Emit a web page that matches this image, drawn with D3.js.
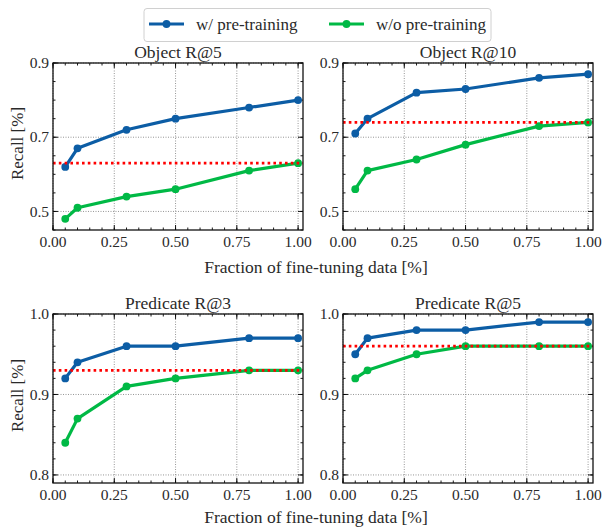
<!DOCTYPE html>
<html>
<head>
<meta charset="utf-8">
<script src="https://cdn.jsdelivr.net/npm/d3@7"></script>
<style>
  body { margin: 0; background: #fff; }
</style>
</head>
<body>
<svg id="chart"></svg>
<script>
// data
const fractions = [0.05, 0.1, 0.3, 0.5, 0.8, 1.0]
const titles = ['Object R@5', 'Object R@10', 'Predicate R@3', 'Predicate R@5']
const withPre = [
  [0.62, 0.67, 0.72, 0.75, 0.78, 0.80],
  [0.71, 0.75, 0.82, 0.83, 0.86, 0.87],
  [0.92, 0.94, 0.96, 0.96, 0.97, 0.97],
  [0.95, 0.97, 0.98, 0.98, 0.99, 0.99]
]
const withoutPre = [
  [0.48, 0.51, 0.54, 0.56, 0.61, 0.63],
  [0.56, 0.61, 0.64, 0.68, 0.73, 0.74],
  [0.84, 0.87, 0.91, 0.92, 0.93, 0.93],
  [0.92, 0.93, 0.95, 0.96, 0.96, 0.96]
]
const baselines = [0.63, 0.74, 0.93, 0.96]
const xTicks = [0, 0.25, 0.5, 0.75, 1.0]
const yTicksObj = [0.5, 0.7, 0.9]
const yTicksPred = [0.8, 0.9, 1.0]
const seriesNames = ['w/ pre-training', 'w/o pre-training']

const blue = '#0C5DA5'
const green = '#00B945'
const FONT = 'Liberation Serif'

const width = 604, height = 527
const svg = d3.select('#chart').attr('width', width).attr('height', height)

const addText = (sel, size) => sel.append('text')
  .attr('font-family', FONT).attr('font-size', size).attr('fill', '#2a2a2a')

// panel boxes: x, y, w, h
const boxes = [
  { x: 53, y: 63, w: 250, h: 167 },
  { x: 343, y: 63, w: 250, h: 167 },
  { x: 53, y: 314, w: 250, h: 169 },
  { x: 343, y: 314, w: 250, h: 169 }
]

boxes.forEach((b, i) => {
  const isObj = i < 2
  const yTicks = isObj ? yTicksObj : yTicksPred
  const x = d3.scaleLinear().domain([0, 1.02]).range([b.x, b.x + b.w])
  const y = d3.scaleLinear().domain(isObj ? [0.45, 0.9] : [0.79, 1.0]).range([b.y + b.h, b.y])
  const g = svg.append('g')

  // grid
  g.append('g').selectAll('line').data(xTicks).enter().append('line')
    .attr('x1', d => x(d)).attr('x2', d => x(d))
    .attr('y1', b.y).attr('y2', b.y + b.h)
    .attr('stroke', '#8a8a8a').attr('stroke-width', 0.9).attr('stroke-dasharray', '1,1.5')
  g.append('g').selectAll('line').data(yTicks).enter().append('line')
    .attr('x1', b.x).attr('x2', b.x + b.w)
    .attr('y1', d => y(d)).attr('y2', d => y(d))
    .attr('stroke', '#8a8a8a').attr('stroke-width', 0.9).attr('stroke-dasharray', '1,1.5')

  // ticks, inward on all sides
  const xMinor = d3.range(0, 1.0001, 0.05)
  const yMinor = isObj ? d3.range(0.45, 0.9001, 0.05) : d3.range(0.8, 1.0001, 0.02)
  const tickG = g.append('g').attr('stroke', '#000').attr('stroke-width', 0.9)
  const vt = (vals, len) => {
    vals.forEach(v => {
      tickG.append('line').attr('x1', x(v)).attr('x2', x(v)).attr('y1', b.y + b.h).attr('y2', b.y + b.h - len)
      tickG.append('line').attr('x1', x(v)).attr('x2', x(v)).attr('y1', b.y).attr('y2', b.y + len)
    })
  }
  const ht = (vals, len) => {
    vals.forEach(v => {
      tickG.append('line').attr('y1', y(v)).attr('y2', y(v)).attr('x1', b.x).attr('x2', b.x + len)
      tickG.append('line').attr('y1', y(v)).attr('y2', y(v)).attr('x1', b.x + b.w).attr('x2', b.x + b.w - len)
    })
  }
  vt(xMinor, 2.5); vt(xTicks, 5)
  ht(yMinor, 2.5); ht(yTicks, 5)

  // tick labels
  xTicks.forEach(t => {
    addText(g, 15.5).attr('x', x(t)).attr('y', b.y + b.h + 17)
      .attr('text-anchor', 'middle').text(d3.format('.2f')(t))
  })
  yTicks.forEach(t => {
    addText(g, 15.5).attr('x', b.x - 4).attr('y', y(t)).attr('dy', '0.33em')
      .attr('text-anchor', 'end').text(d3.format('.1f')(t))
  })

  // series
  const line = d3.line().x((d, j) => x(fractions[j])).y(d => y(d))
  ;[[withPre[i], blue], [withoutPre[i], green]].forEach(([vals, col]) => {
    g.append('path').datum(vals)
      .attr('d', line).attr('fill', 'none')
      .attr('stroke', col).attr('stroke-width', 3.2).attr('stroke-linejoin', 'round')
    g.append('g').selectAll('circle').data(vals).enter().append('circle')
      .attr('cx', (d, j) => x(fractions[j])).attr('cy', d => y(d))
      .attr('r', 3.9).attr('fill', col)
  })

  // baseline
  g.append('line')
    .attr('x1', b.x).attr('x2', b.x + b.w)
    .attr('y1', y(baselines[i])).attr('y2', y(baselines[i]))
    .attr('stroke', '#ff0000').attr('stroke-width', 2.8).attr('stroke-dasharray', '2.6,3.2')

  // frame
  g.append('rect').attr('x', b.x).attr('y', b.y).attr('width', b.w).attr('height', b.h)
    .attr('fill', 'none').attr('stroke', '#111').attr('stroke-width', 1.3)

  // title
  addText(g, 17.5).attr('x', b.x + b.w / 2).attr('y', b.y - 5)
    .attr('text-anchor', 'middle').text(titles[i])

  // y label
  if (i % 2 === 0) {
    addText(g, 17)
      .attr('transform', `translate(23,${b.y + b.h / 2 - 3}) rotate(-90)`)
      .attr('text-anchor', 'middle').text('Recall [%]')
  }
})

// x labels
;[273, 523].forEach(yy => {
  addText(svg, 17.5).attr('x', 316).attr('y', yy)
    .attr('text-anchor', 'middle')
    .text('Fraction of fine-tuning data [%]')
})

// legend
const leg = svg.append('g')
leg.append('rect').attr('x', 144).attr('y', 8.5).attr('width', 347).attr('height', 33)
  .attr('rx', 3).attr('fill', '#fff').attr('stroke', '#d0d0d0').attr('stroke-width', 1)
const legItems = [
  { name: seriesNames[0], col: blue, x: 149 },
  { name: seriesNames[1], col: green, x: 329 }
]
legItems.forEach(it => {
  leg.append('line').attr('x1', it.x).attr('x2', it.x + 35).attr('y1', 24).attr('y2', 24)
    .attr('stroke', it.col).attr('stroke-width', 3.2)
  leg.append('circle').attr('cx', it.x + 17.5).attr('cy', 24).attr('r', 3.9).attr('fill', it.col)
  addText(leg, 17).attr('x', it.x + 47).attr('y', 24).attr('dy', '0.33em').text(it.name)
})
</script>
</body>
</html>
